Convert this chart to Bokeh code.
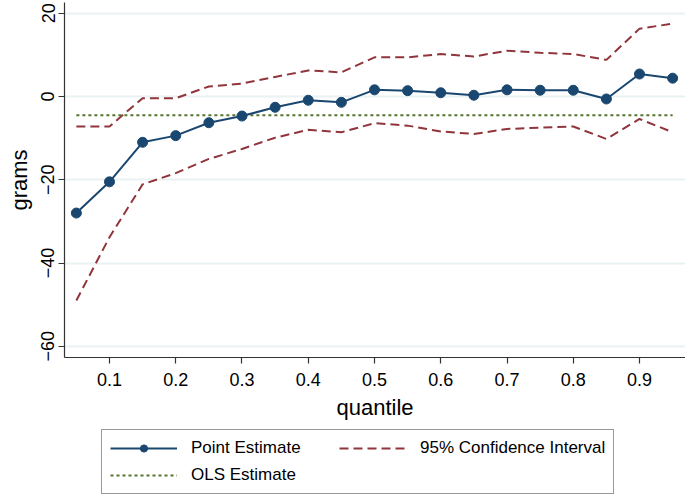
from bokeh.plotting import figure
from bokeh.layouts import column
from bokeh.models import Legend, LegendItem, FixedTicker, Range1d, ColumnDataSource
from bokeh.embed import file_html
from bokeh.resources import INLINE

quantiles = [0.05, 0.10, 0.15, 0.20, 0.25, 0.30, 0.35, 0.40, 0.45, 0.50,
             0.55, 0.60, 0.65, 0.70, 0.75, 0.80, 0.85, 0.90, 0.95]
point_est = [-28.0, -20.5, -11.0, -9.4, -6.3, -4.7, -2.6, -0.9, -1.4, 1.6,
             1.4, 0.9, 0.3, 1.6, 1.5, 1.5, -0.6, 5.4, 4.4]
ci_upper = [-7.2, -7.2, -0.4, -0.4, 2.4, 3.1, 4.7, 6.25, 5.8, 9.4,
            9.4, 10.2, 9.6, 11.0, 10.5, 10.2, 8.8, 16.3, 17.5]
ci_lower = [-49.0, -33.8, -21.1, -18.4, -15.0, -12.6, -9.9, -8.0, -8.6, -6.4,
            -7.0, -8.4, -9.0, -7.8, -7.5, -7.2, -10.2, -5.4, -8.6]
ols_est = -4.5
x_ticks = [0.1, 0.2, 0.3, 0.4, 0.5, 0.6, 0.7, 0.8, 0.9]
y_ticks = [-60, -40, -20, 0, 20]

NAVY = "#1a476f"
MAROON = "#90353b"
GREEN = "#55752f"
GRID = "#eaf2f3"
AXIS = "#333333"
FONT = "Liberation Sans"

src = ColumnDataSource(dict(q=quantiles, pe=point_est, up=ci_upper, lo=ci_lower,
                            ols=[ols_est] * len(quantiles)))

p = figure(width=685, height=428, output_backend="svg", toolbar_location=None,
           x_range=Range1d(0.0321, 0.9694), y_range=Range1d(-62.7, 22.58),
           min_border_left=64, min_border_right=0, min_border_top=2,
           min_border_bottom=71)
p.background_fill_color = "white"
p.border_fill_color = "white"
p.outline_line_color = None

# CI lines
r_up = p.line("q", "up", source=src, line_color=MAROON, line_width=2, line_dash="9 5")
r_lo = p.line("q", "lo", source=src, line_color=MAROON, line_width=2, line_dash="9 5")
# OLS
r_ols = p.line("q", "ols", source=src, line_color=GREEN, line_width=2, line_dash="3 3")
# point estimate
r_pl = p.line("q", "pe", source=src, line_color=NAVY, line_width=2)
r_pc = p.scatter("q", "pe", source=src, size=10, fill_color=NAVY, line_color=NAVY)

# axes
p.xaxis.ticker = FixedTicker(ticks=x_ticks)
p.yaxis.ticker = FixedTicker(ticks=y_ticks)
p.xaxis.axis_label = "quantile"
p.yaxis.axis_label = "grams"
for ax in (p.xaxis[0], p.yaxis[0]):
    ax.axis_line_color = AXIS
    ax.axis_line_width = 1.2
    ax.major_tick_line_color = AXIS
    ax.major_tick_line_width = 1.2
    ax.major_tick_out = 6
    ax.major_tick_in = 0
    ax.minor_tick_line_color = None
    ax.major_label_text_font = FONT
    ax.major_label_text_font_size = "18px"
    ax.major_label_text_color = "black"
    ax.axis_label_text_font = FONT
    ax.axis_label_text_font_size = "22px"
    ax.axis_label_text_font_style = "normal"
    ax.axis_label_text_color = "black"
p.yaxis.major_label_orientation = "vertical"
p.yaxis.major_label_standoff = 4
p.yaxis.axis_label_standoff = 7
p.xaxis.major_label_standoff = 9
p.xaxis.axis_label_standoff = 6

p.xgrid.grid_line_color = None
p.ygrid.grid_line_color = GRID
p.ygrid.grid_line_width = 2
p.ygrid.ticker = FixedTicker(ticks=y_ticks)

# legend panel below the chart (its renderers use the same data, kept out of view)
p2 = figure(width=685, height=67, output_backend="svg", toolbar_location=None,
            x_axis_type=None, y_axis_type=None, min_border=0,
            x_range=Range1d(0, 1), y_range=Range1d(100, 101))
p2.outline_line_color = None
p2.background_fill_color = "white"
p2.border_fill_color = "white"
p2.grid.grid_line_color = None
l_pl = p2.line("q", "pe", source=src, line_color=NAVY, line_width=2)
l_pc = p2.scatter("q", "pe", source=src, size=9, fill_color=NAVY, line_color=NAVY)
l_ci = p2.line("q", "up", source=src, line_color=MAROON, line_width=2, line_dash="9 5")
l_ols = p2.line("q", "ols", source=src, line_color=GREEN, line_width=2, line_dash="3 3")

legend = Legend(items=[
    LegendItem(label="Point Estimate", renderers=[l_pl, l_pc]),
    LegendItem(label="OLS Estimate", renderers=[l_ols]),
    LegendItem(label="95% Confidence Interval", renderers=[l_ci]),
], ncols=2, location=(37, 1))
legend.label_text_font = FONT
legend.label_text_font_size = "17px"
legend.label_text_color = "black"
legend.border_line_color = AXIS
legend.border_line_width = 1.2
legend.background_fill_color = "white"
legend.background_fill_alpha = 1.0
legend.glyph_width = 67
legend.glyph_height = 18
legend.label_height = 18
legend.label_width = 141
legend.label_standoff = 14
legend.spacing = 7
legend.padding = 8
legend.margin = 0
p2.add_layout(legend, "center")

open("out.html", "w").write(file_html(column(p, p2, spacing=0), INLINE))
